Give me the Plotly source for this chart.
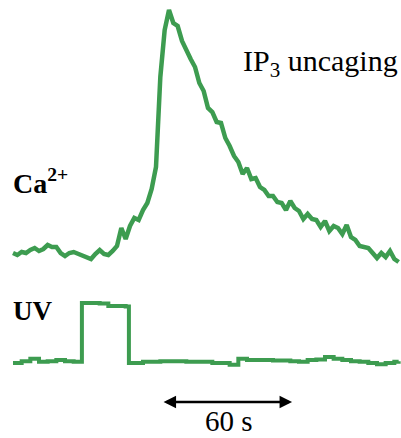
import numpy as np
import plotly.graph_objects as go

# Ca2+ trace: time (s), fluorescence change (a.u.)
ca_time = np.arange(0, 180, 2)
ca_values = [2, 0, 3, 2, 5, 7, 4, 6, 10, 8,
             8, 2, -1, 2, 3, 1, 0, -2, -4, 1,
             5, 1, 0, 4, 9, 27, 16, 29, 37, 35,
             45, 52, 66, 88, 178, 225, 245, 232, 229, 214,
             204, 196, 188, 172, 164, 147, 143, 133, 132, 117,
             109, 99, 93, 81, 87, 76, 77, 68, 65, 59,
             59, 53, 52, 45, 54, 47, 44, 36, 41, 36,
             35, 28, 34, 24, 29, 27, 21, 30, 18, 15,
             9, 8, 7, 2, -3, 2, -2, 4, -4, -7]

# UV stimulus trace: time (s), intensity (a.u.)
uv_time = [0, 4, 8, 12, 16, 20, 24, 28, 31.8, 36, 40, 44, 48, 52, 53.5,
           56, 60, 64, 68, 72, 76, 80, 84, 88, 92, 96, 100, 104, 108,
           112, 116, 120, 124, 128, 132, 136, 140, 144, 148, 152, 156,
           160, 164, 168, 172, 176, 178]
uv_values = [0.0, 0.03, 0.07, 0.02, 0.03, 0.05, 0.03, 0.02, 1.0, 1.0, 0.99,
             0.95, 0.95, 0.94, 0.0,
             0.0, 0.02, 0.02, 0.03, 0.03, 0.03, 0.02, 0.02, 0.02, 0.0, 0.0,
             -0.03, 0.07, 0.05, 0.05, 0.05, 0.04, 0.04, 0.03, 0.02, 0.05,
             0.06, 0.1, 0.07, 0.05, 0.03, 0.02, 0.0, -0.02, 0.0, 0.02, 0.03]

scale_bar_start = 68.8
scale_bar_len = 60

GREEN = "#3d9c50"
FONT = "Liberation Serif"

fig = go.Figure()
fig.add_trace(go.Scatter(x=ca_time, y=ca_values, mode="lines",
                         line=dict(color=GREEN, width=4.5), yaxis="y",
                         showlegend=False, hoverinfo="skip"))
fig.add_trace(go.Scatter(x=uv_time, y=uv_values, mode="lines",
                         line=dict(color=GREEN, width=4, shape="hv"), yaxis="y2",
                         showlegend=False, hoverinfo="skip"))

fig.update_layout(
    width=401, height=438,
    margin=dict(l=0, r=0, t=0, b=0),
    paper_bgcolor="white", plot_bgcolor="white",
    xaxis=dict(range=[-6, 179.08], visible=False),
    yaxis=dict(range=[-183, 255], visible=False),
    yaxis2=dict(range=[-1.25, 6.05], visible=False, overlaying="y"),
    font=dict(family=FONT, color="black"),
)

fig.add_annotation(text="<b>Ca<sup>2+</sup></b>", xref="paper", yref="paper",
                   x=0.028, y=0.585, xanchor="left", yanchor="middle",
                   showarrow=False, font=dict(size=28, family=FONT))
fig.add_annotation(text="<b>UV</b>", xref="paper", yref="paper",
                   x=0.028, y=0.29, xanchor="left", yanchor="middle",
                   showarrow=False, font=dict(size=27, family=FONT))
fig.add_annotation(text="IP<sub>3</sub> uncaging", xref="paper", yref="paper",
                   x=0.6, y=0.857, xanchor="left", yanchor="middle",
                   showarrow=False, font=dict(size=30, family=FONT))
fig.add_annotation(text="60 s", xref="paper", yref="paper",
                   x=0.57, y=0.038, xanchor="center", yanchor="middle",
                   showarrow=False, font=dict(size=29, family=FONT))
fig.add_annotation(x=scale_bar_start + scale_bar_len, y=-147, xref="x", yref="y",
                   ax=scale_bar_start, ay=-147, axref="x", ayref="y",
                   text="", showarrow=True, arrowhead=2, arrowside="end+start",
                   arrowsize=1, arrowwidth=2.5, arrowcolor="black",
                   standoff=0, startstandoff=0)

fig.write_html("out.html", config={"displayModeBar": False},
               post_script="document.body.style.margin='0';document.body.style.overflow='hidden';")
